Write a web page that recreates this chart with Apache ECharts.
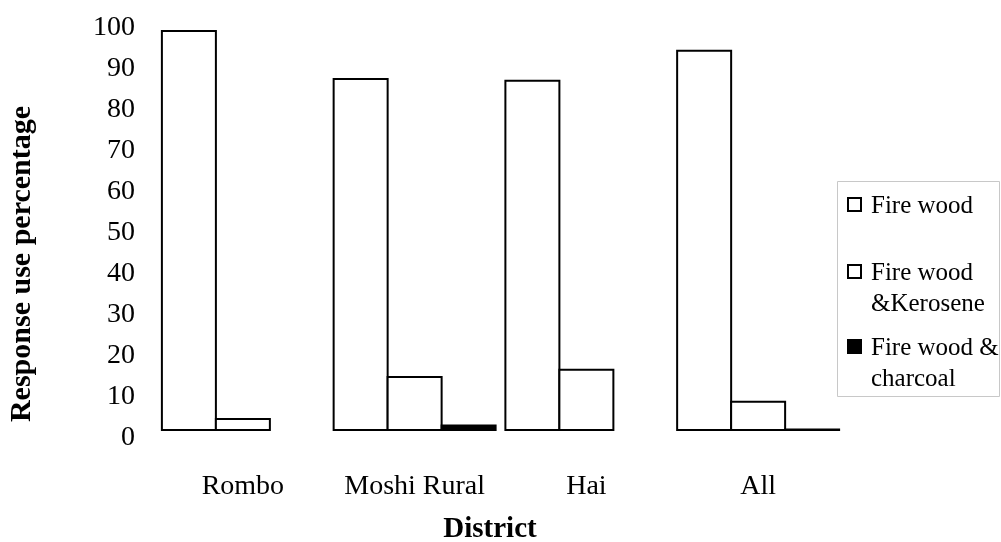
<!DOCTYPE html>
<html>
<head>
<meta charset="utf-8">
<title>Household cooking energy by district</title>
<script src="https://cdn.jsdelivr.net/npm/echarts@6/dist/echarts.min.js"></script>
<style>
  html, body { margin: 0; padding: 0; background: #fff; }
  #chart { width: 1001px; height: 542px; }
</style>
</head>
<body>
<div id="chart"></div>
<script>
// Districts along the x axis
const districts = ['Rombo', 'Moshi Rural', 'Hai', 'All'];

// Share of respondents (%) using each energy source
const fireWood = [97.8, 86.1, 85.7, 93.0];
const fireWoodKerosene = [3.2, 13.4, 15.2, 7.4];
const fireWoodCharcoal = [0, 1.6, 0, 0.6];

// Legend wording (line breaks as printed)
const seriesNames = ['Fire wood', 'Fire wood\n&Kerosene', 'Fire wood &\ncharcoal'];

// Value axis ticks
const yMin = 0, yMax = 100, yStep = 10;

const FONT = 'Liberation Serif, Times New Roman, serif';
const fills = ['#ffffff', '#ffffff', '#000000'];
const values = [fireWood, fireWoodKerosene, fireWoodCharcoal];

// Zero shares are simply not drawn
const asBars = arr => arr.map(v => (v === 0 ? '-' : v));

// Neighbouring bars overlap by one border width so they share a single edge
const series = values.map((arr, i) => ({
  name: seriesNames[i],
  type: 'bar',
  data: asBars(arr),
  barWidth: 56,
  barGap: '-3.6%',
  itemStyle: { color: fills[i], borderColor: '#000', borderWidth: 2 },
  emphasis: { disabled: true },
  animation: false
}));

// Legend box drawn on the right, one entry per series
const legendTop = [190.5, 257.5, 332.5];
const legendGraphics = [{
  type: 'rect',
  shape: { x: 837.5, y: 181.5, width: 162, height: 215 },
  style: { fill: '#fff', stroke: '#c8c8c8', lineWidth: 1 },
  silent: true
}];
seriesNames.forEach((name, i) => {
  legendGraphics.push({
    type: 'rect',
    shape: { x: 848, y: legendTop[i] + 7.5, width: 13, height: 13 },
    style: { fill: fills[i], stroke: '#000', lineWidth: 2 },
    silent: true
  });
  legendGraphics.push({
    type: 'text',
    x: 871,
    y: legendTop[i],
    style: {
      text: name,
      font: '25px ' + FONT,
      fill: '#000',
      lineHeight: 31,
      verticalAlign: 'top',
      align: 'left'
    },
    silent: true
  });
});

const chart = echarts.init(document.getElementById('chart'), null, { renderer: 'canvas' });
chart.setOption({
  backgroundColor: '#fff',
  animation: false,
  grid: { left: 157, right: 157, top: 21, bottom: 111, containLabel: false },
  xAxis: {
    type: 'category',
    data: districts,
    axisLine: { show: false },
    axisTick: { show: false },
    splitLine: { show: false },
    axisLabel: {
      interval: 0,
      margin: 42,
      color: '#000',
      fontFamily: FONT,
      fontSize: 28
    }
  },
  yAxis: {
    type: 'value',
    min: yMin,
    max: yMax,
    interval: yStep,
    axisLine: { show: false },
    axisTick: { show: false },
    splitLine: { show: false },
    axisLabel: {
      margin: 22,
      color: '#000',
      fontFamily: FONT,
      fontSize: 28,
      verticalAlign: 'top',
      lineHeight: 14
    }
  },
  series: series,
  graphic: [
    {
      type: 'text',
      x: 22,
      y: 264,
      rotation: Math.PI / 2,
      style: {
        text: 'Response use percentage',
        font: 'bold 30px ' + FONT,
        fill: '#000',
        align: 'center',
        verticalAlign: 'middle'
      },
      silent: true
    },
    {
      type: 'text',
      x: 490,
      y: 530,
      style: {
        text: 'District',
        font: 'bold 29px ' + FONT,
        fill: '#000',
        align: 'center',
        verticalAlign: 'middle'
      },
      silent: true
    }
  ].concat(legendGraphics)
});
</script>
</body>
</html>
